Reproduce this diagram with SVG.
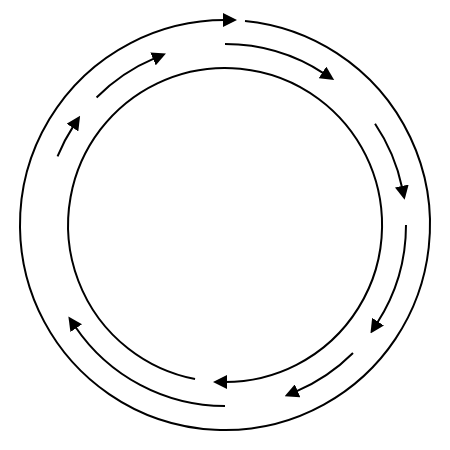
<svg xmlns="http://www.w3.org/2000/svg" width="450" height="450" viewBox="0 0 450 450">
  <defs>
    <marker id="ah" viewBox="0 0 14 14" markerWidth="14" markerHeight="14" refX="2" refY="7" markerUnits="userSpaceOnUse" orient="auto">
      <path d="M0,0 L14,7 L0,14 z" fill="#000"/>
    </marker>
    <style>
      .arc { fill: none; stroke: #000; stroke-width: 2; marker-end: url(#ah); }
    </style>
  </defs>
  <rect width="450" height="450" fill="#fff"/>
  <g id="rings">
    <path class="arc" d="M245,20.98 A205,205 0 1 1 225,20"/>
    <path class="arc" d="M195.04,379.1 A157,157 0 1 1 225,382"/>
  </g>
  <g id="connectors">
    <path class="arc" d="M406,225 A181,181 0 0 1 376.97,323.32"/>
    <path class="arc" d="M352.99,352.99 A181,181 0 0 1 295.72,391.61"/>
    <path class="arc" d="M225,406 A181,181 0 0 1 75.11,326.47"/>
    <path class="arc" d="M57.54,156.31 A181,181 0 0 1 73.54,125.88"/>
    <path class="arc" d="M96.56,97.47 A181,181 0 0 1 154.86,58.13"/>
    <path class="arc" d="M225,44 A181,181 0 0 1 324.12,73.54"/>
    <path class="arc" d="M375.05,123.78 A181,181 0 0 1 402.18,187.99"/>
  </g>
</svg>
